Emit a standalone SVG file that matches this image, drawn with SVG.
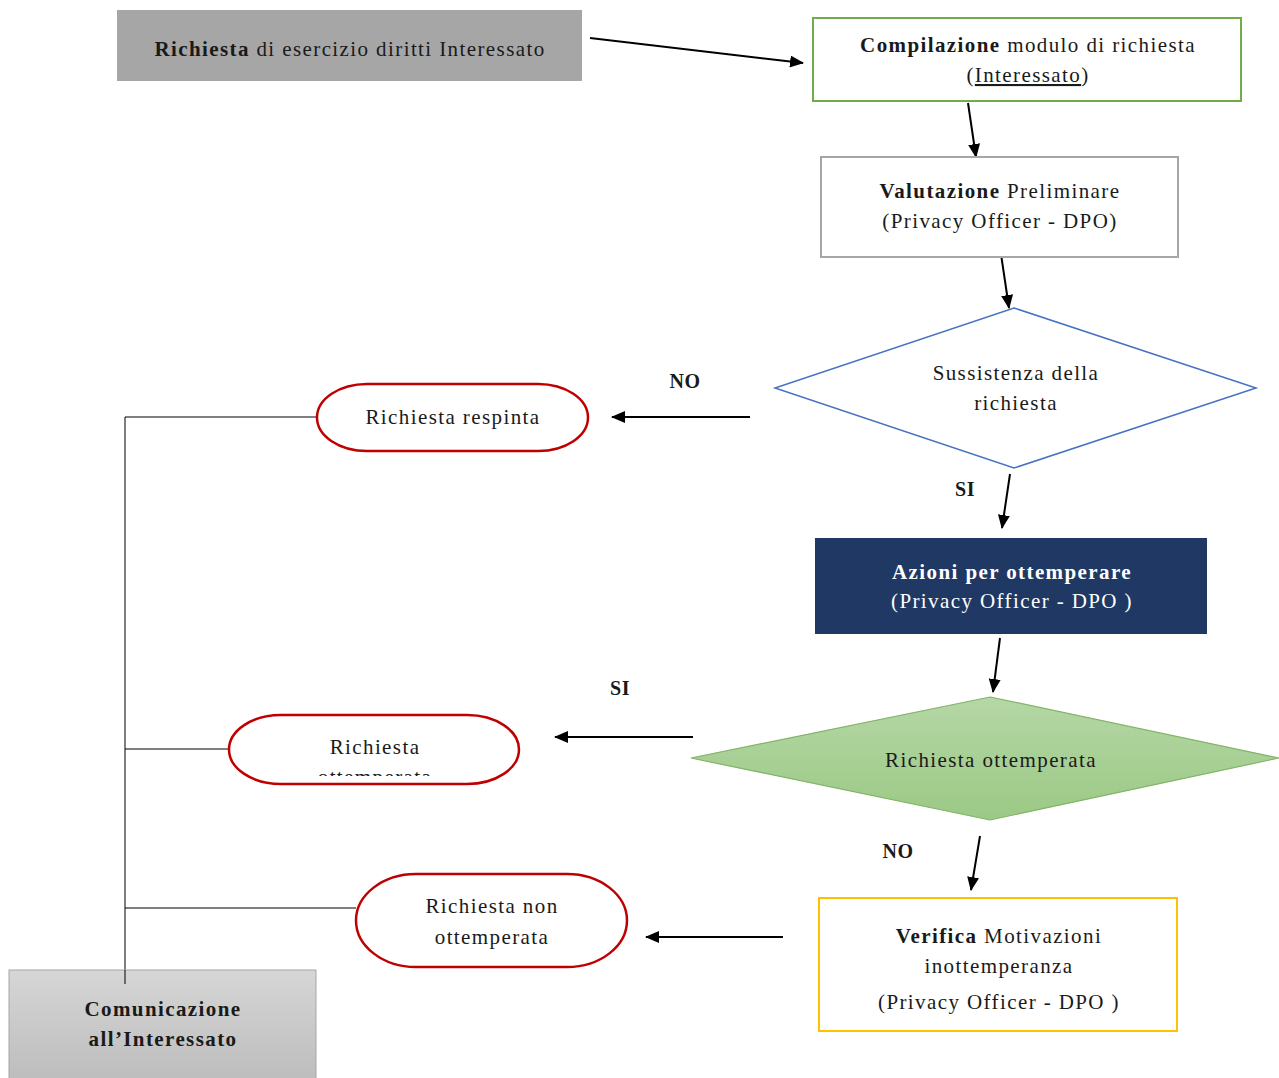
<svg xmlns="http://www.w3.org/2000/svg" width="1279" height="1078" viewBox="0 0 1279 1078">
<style>
text{font-family:"Liberation Serif","Times New Roman",serif;font-size:21px;letter-spacing:1.4px;fill:#1a1a1a;text-anchor:middle}
.b{font-weight:bold}
.w{fill:#ffffff}
.con{stroke:#000;stroke-width:2;fill:none}
.thin{stroke:#000;stroke-width:1;fill:none}
.lbl{font-weight:bold;font-size:20px;letter-spacing:0.5px}
.stad{fill:#fff;stroke:#c00000;stroke-width:2.5}
</style>
<defs>
<marker id="ah" viewBox="0 0 14 12" refX="13" refY="6" markerWidth="14" markerHeight="12" markerUnits="userSpaceOnUse" orient="auto">
<path d="M0,0 L14,6 L0,12 z" fill="#000"/>
</marker>
<linearGradient id="gg" x1="0" y1="0" x2="0" y2="1">
<stop offset="0" stop-color="#b5d7a6"/>
<stop offset="1" stop-color="#9bc985"/>
</linearGradient>
<linearGradient id="gr" x1="0" y1="0" x2="0" y2="1">
<stop offset="0" stop-color="#d6d6d6"/>
<stop offset="1" stop-color="#bdbdbd"/>
</linearGradient>
<clipPath id="clipOtt">
<rect x="228" y="714" width="292" height="62"/>
</clipPath>
</defs>

<g id="connectors">
<line class="con" x1="590" y1="38" x2="803" y2="63" marker-end="url(#ah)"/>
<line class="con" x1="968" y1="103" x2="976" y2="157" marker-end="url(#ah)"/>
<line class="con" x1="1001" y1="254" x2="1009" y2="308" marker-end="url(#ah)"/>
<line class="con" x1="750" y1="417" x2="612" y2="417" marker-end="url(#ah)"/>
<line class="con" x1="1010" y1="474" x2="1002" y2="528" marker-end="url(#ah)"/>
<line class="con" x1="1000" y1="638" x2="993" y2="692" marker-end="url(#ah)"/>
<line class="con" x1="693" y1="737" x2="555" y2="737" marker-end="url(#ah)"/>
<line class="con" x1="980" y1="836" x2="971" y2="890" marker-end="url(#ah)"/>
<line class="con" x1="783" y1="937" x2="646" y2="937" marker-end="url(#ah)"/>
<line class="thin" x1="125" y1="417" x2="125" y2="984"/>
<line class="thin" x1="125" y1="417" x2="316" y2="417"/>
<line class="thin" x1="125" y1="749" x2="228" y2="749"/>
<line class="thin" x1="125" y1="908" x2="356" y2="908"/>
<text class="lbl" x="685" y="388">NO</text>
<text class="lbl" x="965" y="496">SI</text>
<text class="lbl" x="620" y="695">SI</text>
<text class="lbl" x="898" y="858">NO</text>
</g>

<g id="n-richiesta">
<rect x="117" y="10" width="465" height="71" fill="#a6a6a6"/>
<text x="350" y="56"><tspan class="b">Richiesta</tspan> di esercizio diritti Interessato</text>
</g>

<g id="n-compilazione">
<rect x="813" y="18" width="428" height="83" fill="#fff" stroke="#70ad47" stroke-width="2"/>
<text x="1028" y="52"><tspan class="b">Compilazione</tspan> modulo di richiesta</text>
<text x="1028" y="82">(<tspan text-decoration="underline">Interessato</tspan>)</text>
</g>

<g id="n-valutazione">
<rect x="821" y="157" width="357" height="100" fill="#fff" stroke="#a6a6a6" stroke-width="2"/>
<text x="1000" y="198"><tspan class="b">Valutazione</tspan> Preliminare</text>
<text x="1000" y="228">(Privacy Officer - DPO)</text>
</g>

<g id="n-sussistenza">
<polygon points="1014,308 1256,388 1014,468 775,388" fill="#fff" stroke="#4472c4" stroke-width="1.5"/>
<text x="1016" y="380">Sussistenza della</text>
<text x="1016" y="410">richiesta</text>
</g>

<g id="n-respinta">
<rect x="317" y="384" width="271" height="67" rx="50" ry="33.5" class="stad"/>
<text x="453" y="424">Richiesta respinta</text>
</g>

<g id="n-azioni">
<rect x="815" y="538" width="392" height="96" fill="#203864"/>
<text class="b w" x="1012" y="579">Azioni per ottemperare</text>
<text class="w" x="1012" y="608">(Privacy Officer - DPO )</text>
</g>

<g id="n-ottemperata-dec">
<polygon points="990,697 1279,758 990,820 691,758" fill="url(#gg)" stroke="#82b366" stroke-width="1.2"/>
<text x="991" y="767">Richiesta ottemperata</text>
</g>

<g id="n-ottemperata">
<rect x="229" y="715" width="290" height="69" rx="52" ry="34.5" class="stad"/>
<text x="375" y="754">Richiesta</text>
<text x="375" y="784" clip-path="url(#clipOtt)">ottemperata</text>
</g>

<g id="n-non-ottemperata">
<rect x="356" y="874" width="271" height="93" rx="60" ry="46.5" class="stad"/>
<text x="492" y="913">Richiesta non</text>
<text x="492" y="944">ottemperata</text>
</g>

<g id="n-verifica">
<rect x="819" y="898" width="358" height="133" fill="#fff" stroke="#ffc000" stroke-width="2"/>
<text x="999" y="943"><tspan class="b">Verifica</tspan> Motivazioni</text>
<text x="999" y="973">inottemperanza</text>
<text x="999" y="1009">(Privacy Officer - DPO )</text>
</g>

<g id="n-comunicazione">
<rect x="9" y="970" width="307" height="110" fill="url(#gr)" stroke="#a6a6a6" stroke-width="1"/>
<line class="thin" x1="125" y1="970" x2="125" y2="984"/>
<text class="b" x="163" y="1016">Comunicazione</text>
<text class="b" x="163" y="1046">all’Interessato</text>
</g>
</svg>
